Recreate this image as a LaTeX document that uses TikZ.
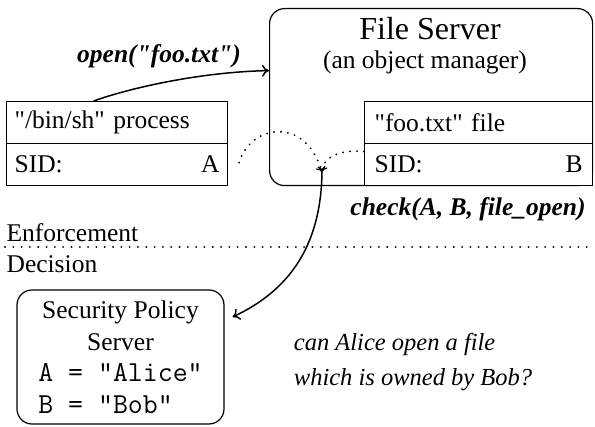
\documentclass[tikz,border=0pt]{standalone}
\usepackage{fontspec}
\setmainfont{Liberation Serif}[Ligatures=TeXOff]
\usetikzlibrary{arrows.meta}

\newcommand\codeline[1]{{\ttfamily\fontsize{29}{31.5}\selectfont #1}}

\begin{document}
\begin{tikzpicture}[
    x=1pt, y=-1pt,
    font=\fontsize{25.5}{31.5}\selectfont,
    line width=1.2pt,
    server/.style = {draw, rounded corners=15pt, inner sep=0pt},
    row/.style = {draw, fill=white, anchor=north west, inner sep=0pt,
      minimum height=42pt, align=left},
    call/.style = {font=\fontsize{25.5}{30}\bfseries\itshape\selectfont},
    flow/.style = {line width=1.5pt, -{To[length=7pt,width=12pt]}},
    hint/.style = {line width=2.1pt, line cap=round,
      dash pattern=on 0.01pt off 7pt,
      -{To[length=5pt,width=10pt,line width=1.2pt]}},
    sep/.style = {line width=2.1pt, line cap=round,
      dash pattern=on 0.01pt off 8.3pt}
  ]
  \useasboundingbox (0,0) rectangle (595,427);

  % enforcement side
  \node (fs) [server, anchor=north west,
    minimum width=323pt, minimum height=177pt] at (269,8) {};
  \node (fstitle) [font=\fontsize{32}{36}\selectfont] at (430,29) {File Server};
  \node (fssub) at (425,62) {(an object manager)};
  \node (foo) [row, minimum width=228pt, text width=208pt] at (364,101)
    {"foo.txt" file};
  \node (foosid) [row, minimum width=228pt, text width=208pt] at (364,143)
    {SID:\hfill B};

  \node (proc) [row, minimum width=221pt, text width=205pt] at (6,101)
    {"/bin/sh" process};
  \node (procsid) [row, minimum width=221pt, text width=205pt] at (6,143)
    {SID:\hfill A};

  \node (enf) [anchor=west, inner sep=0pt] at (6,233) {Enforcement};
  \node (dec) [anchor=west, inner sep=0pt] at (6,264) {Decision};
  \coordinate (sepL) at (5,247);
  \coordinate (sepR) at (595,247);
  \draw [sep] (sepL) -- (sepR);

  % decision side
  \node (policy) [server, minimum width=207pt, minimum height=134pt,
    align=center] at (120.5,357)
    {Security Policy\\ Server\\ \codeline{A = "Alice"}\\
     \codeline{B = "Bob"\phantom{ee}}};
  \node (ask) [anchor=west, align=left,
    font=\fontsize{24.5}{35}\itshape\selectfont] at (290,362)
    {can Alice open a file\\ which is owned by Bob?};

  % calls
  \coordinate (jn) at (322,172);
  \draw [hint] ([xshift=11pt,yshift=2pt]procsid.east)
    .. controls (250,125) and (305,115) .. (jn);
  \draw [hint] ([yshift=13pt]foosid.west)
    .. controls (350,150) and (324,152) .. (jn);

  \draw [flow] ([xshift=-23.5pt]proc.north)
    .. controls (130,88) and (200,72) .. ([yshift=26.5pt]fs.west);
  \draw [flow] (jn)
    .. controls (321,245) and (290,290) .. ([xshift=8pt,yshift=40pt]policy.east);

  \node (opencall) [call] at (159,56) {open("foo.txt")};
  \node (checkcall) [call] at (468,209) {check(A, B, file\_open)};
\end{tikzpicture}
\end{document}
